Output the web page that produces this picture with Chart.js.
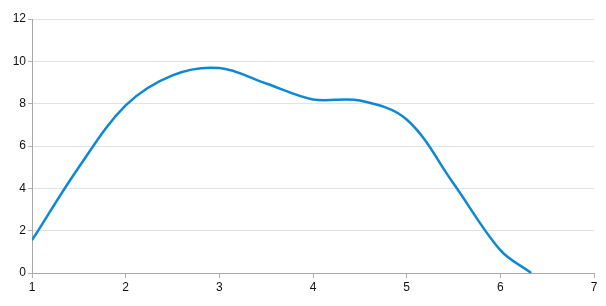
<!DOCTYPE html>
<html><head><meta charset="utf-8">
<script src="https://cdn.jsdelivr.net/npm/chart.js@4/dist/chart.umd.min.js"></script>
<style>html,body{margin:0;padding:0;background:#fff}canvas{display:block}</style>
</head><body>
<canvas id="c" width="606" height="306"></canvas>
<script>
const xValues = [1, 1.5, 2, 2.5, 3, 3.5, 4, 4.5, 5, 5.5, 6, 6.33];
const yValues = [1.55, 5.0, 7.92, 9.34, 9.68, 8.95, 8.2, 8.15, 7.25, 4.23, 1.08, 0];
const xTicks = [1, 2, 3, 4, 5, 6, 7];
const yTicks = [0, 2, 4, 6, 8, 10, 12];

const points = xValues.map((x, i) => ({x: x, y: yValues[i]}));

new Chart(document.getElementById('c'), {
  type: 'line',
  data: { datasets: [{
    data: points,
    borderColor: '#0c88d4',
    borderWidth: 2.5,
    pointRadius: 0,
    tension: 0.35,
    fill: false
  }]},
  options: {
    responsive: false,
    animation: false,
    plugins: { legend: {display: false}, tooltip: {enabled: false} },
    layout: { padding: {left: 0, right: 12, top: 19, bottom: 0} },
    scales: {
      x: {
        type: 'linear', min: 1, max: 7,
        afterBuildTicks: s => { s.ticks = xTicks.map(v => ({value: v})); },
        afterFit: s => { s.height = 33; },
        grid: { drawOnChartArea: false, drawTicks: true, tickLength: 5, color: '#b0b0b0' },
        border: { color: '#a8a8a8' },
        ticks: { color: '#111', font: {family: 'Liberation Sans, Arial', size: 12}, padding: 2 }
      },
      y: {
        min: 0, max: 12,
        afterBuildTicks: s => { s.ticks = yTicks.map(v => ({value: v})); },
        afterFit: s => { s.width = 32; },
        grid: { color: '#e2e2e2', tickColor: '#b0b0b0', tickLength: 4, drawTicks: true },
        border: { color: '#a8a8a8' },
        ticks: { color: '#111', font: {family: 'Liberation Sans, Arial', size: 12}, padding: 2 }
      }
    }
  }
});
</script>
</body></html>
